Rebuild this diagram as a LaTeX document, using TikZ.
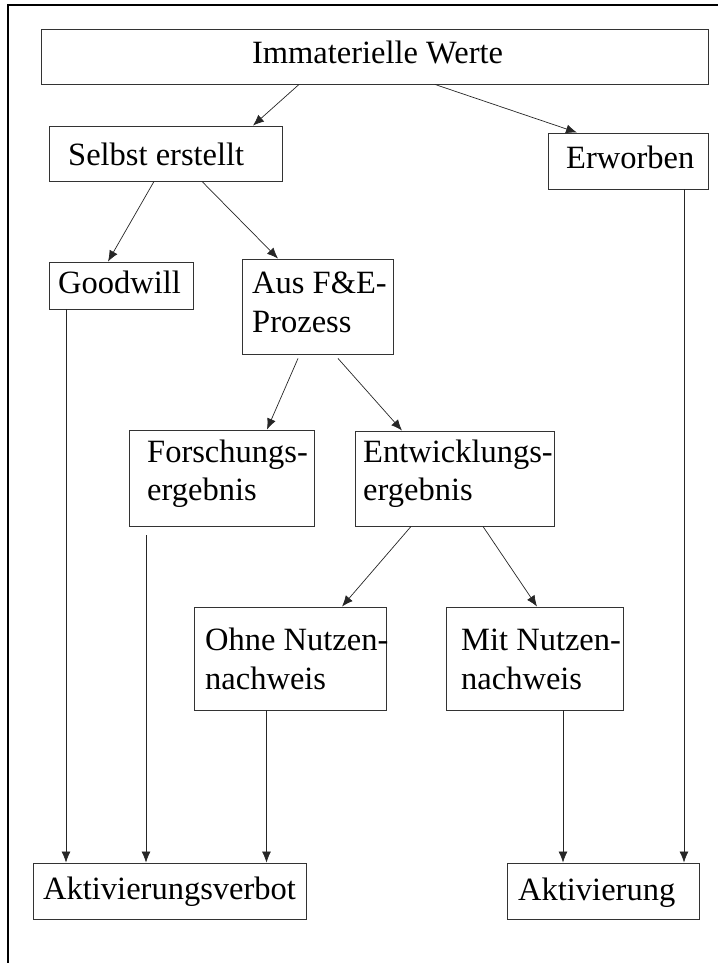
\documentclass[tikz,border=0pt]{standalone}
\usepackage{fontspec}
\setmainfont{Liberation Serif}
\usetikzlibrary{arrows.meta}
\tikzset{
  box/.style={draw=black!80, line width=0.9pt, inner sep=0pt},
  txt/.style={inner sep=0pt, anchor=base west, font=\fontsize{32.5}{38}\selectfont},
  conn/.style={draw=black!85, line width=0.7pt, -{Latex[length=11pt,width=9pt]}}
}
\begin{document}
\begin{tikzpicture}[x=1pt,y=-1pt]
\useasboundingbox (0,0) rectangle (718,963);
\draw[line width=1.3pt] (8,963) -- (8,5) -- (718,5);
% boxes
\node[box, minimum width=667pt, minimum height=55pt] (immat) at (374.5,56.5) {};
\node[box, minimum width=233pt, minimum height=55pt] (selbst) at (165.5,153.5) {};
\node[box, minimum width=160pt, minimum height=56pt] (erw) at (628,161) {};
\node[box, minimum width=144pt, minimum height=47pt] (good) at (121,285.5) {};
\node[box, minimum width=151pt, minimum height=95pt] (aus) at (317.5,306.5) {};
\node[box, minimum width=185pt, minimum height=96pt] (forsch) at (221.5,478) {};
\node[box, minimum width=199pt, minimum height=95pt] (entw) at (454.5,478.5) {};
\node[box, minimum width=192pt, minimum height=103pt] (ohne) at (290,658.5) {};
\node[box, minimum width=177pt, minimum height=103pt] (mit) at (534.5,658.5) {};
\node[box, minimum width=273pt, minimum height=56pt] (verbot) at (169.5,891) {};
\node[box, minimum width=192pt, minimum height=56pt] (aktiv) at (603,891) {};
% texts
\node[txt, anchor=base] (t-immat) at (377.5,64) {Immaterielle Werte};
\node[txt] (t-selbst) at (68,165) {Selbst erstellt};
\node[txt] (t-erw) at (566,168) {Erworben};
\node[txt] (t-good) at (58,293) {Goodwill};
\node[txt] (t-aus1) at (252,293) {Aus F\&E-};
\node[txt] (t-aus2) at (252,332) {Prozess};
\node[txt] (t-forsch1) at (147,462) {Forschungs-};
\node[txt] (t-forsch2) at (147,500) {ergebnis};
\node[txt] (t-entw1) at (363,462) {Entwicklungs-};
\node[txt] (t-entw2) at (363,500) {ergebnis};
\node[txt] (t-ohne1) at (205,650) {Ohne Nutzen-};
\node[txt] (t-ohne2) at (205,689) {nachweis};
\node[txt] (t-mit1) at (461,650) {Mit Nutzen-};
\node[txt] (t-mit2) at (461,689) {nachweis};
\node[txt] (t-verbot) at (43,899) {Aktivierungsverbot};
\node[txt] (t-aktiv) at (518,900) {Aktivierung};
% connectors
\draw[conn] ([xshift=-75.5pt]immat.south) -- ([xshift=87.5pt]selbst.north);
\draw[conn] ([xshift=60.5pt]immat.south) -- ([xshift=-51pt]erw.north);
\draw[conn] ([xshift=-11.5pt]selbst.south) -- ([xshift=-13pt]good.north);
\draw[conn] ([xshift=36.5pt]selbst.south) -- ([xshift=-39.5pt]aus.north);
\draw[conn] ([xshift=-19.5pt,yshift=-4pt]aus.south) -- ([xshift=45.5pt]forsch.north);
\draw[conn] ([xshift=20.5pt,yshift=-4pt]aus.south) -- ([xshift=-52.5pt]entw.north);
\draw[conn] ([xshift=-43.5pt]entw.south) -- ([xshift=52pt]ohne.north);
\draw[conn] ([xshift=28.5pt]entw.south) -- ([xshift=2.5pt]mit.north);
\draw[conn] ([xshift=-55pt]good.south) -- ([xshift=-103.5pt]verbot.north);
\draw[conn] ([xshift=-75.5pt,yshift=-9pt]forsch.south) -- ([xshift=-23.5pt]verbot.north);
\draw[conn] ([xshift=-23.5pt]ohne.south) -- ([xshift=97pt]verbot.north);
\draw[conn] ([xshift=28.5pt]mit.south) -- ([xshift=-40pt]aktiv.north);
\draw[conn] ([xshift=56pt]erw.south) -- ([xshift=81pt]aktiv.north);
\end{tikzpicture}
\end{document}
